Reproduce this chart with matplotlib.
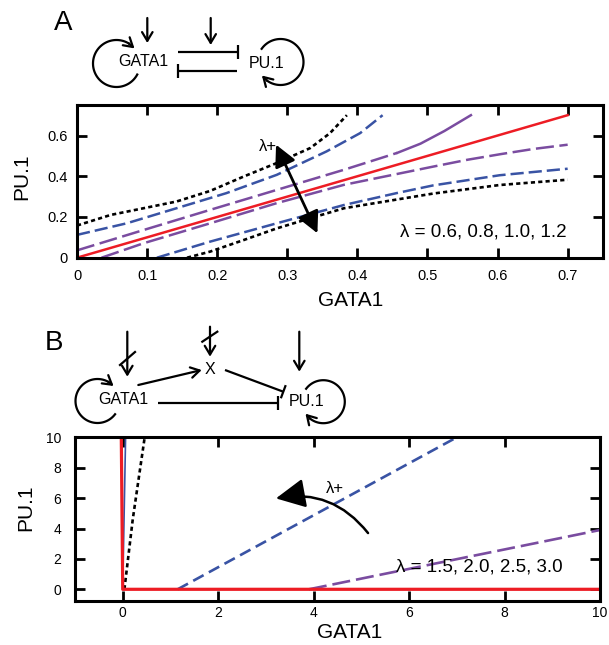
import numpy as np
import matplotlib.pyplot as plt
from matplotlib.patches import FancyArrowPatch

plt.rcParams['font.family'] = ['Liberation Sans', 'DejaVu Sans']
plt.rcParams['lines.scale_dashes'] = False

RED = '#ed1c24'
BLUE = '#3953a4'
PURPLE = '#7a4ca0'

# panel A: nullclines in the (GATA1, PU.1) plane
a_red_x = [0.0, 0.7]
a_red_y = [0.0, 0.7]
a_black_up_x = [0.0, 0.048, 0.095, 0.142, 0.19, 0.238, 0.285, 0.333, 0.361, 0.385]
a_black_up_y = [0.158, 0.21, 0.243, 0.276, 0.328, 0.399, 0.465, 0.539, 0.612, 0.70]
a_blue_up_x = [0.0, 0.071, 0.142, 0.213, 0.285, 0.356, 0.404, 0.436]
a_blue_up_y = [0.112, 0.169, 0.243, 0.317, 0.407, 0.522, 0.612, 0.70]
a_purple_up_x = [0.0, 0.095, 0.19, 0.285, 0.381, 0.457, 0.49, 0.524, 0.562]
a_purple_up_y = [0.036, 0.136, 0.235, 0.333, 0.432, 0.515, 0.56, 0.622, 0.70]
a_purple_lo_x = [0.035, 0.095, 0.19, 0.285, 0.381, 0.462, 0.509, 0.557, 0.605, 0.651, 0.70]
a_purple_lo_y = [0.0, 0.071, 0.169, 0.268, 0.358, 0.415, 0.448, 0.481, 0.509, 0.534, 0.555]
a_blue_lo_x = [0.114, 0.19, 0.285, 0.381, 0.457, 0.508, 0.603, 0.70]
a_blue_lo_y = [0.0, 0.079, 0.169, 0.259, 0.318, 0.355, 0.405, 0.437]
a_black_lo_x = [0.157, 0.19, 0.238, 0.285, 0.333, 0.381, 0.455, 0.508, 0.603, 0.70]
a_black_lo_y = [0.0, 0.03, 0.087, 0.144, 0.194, 0.243, 0.285, 0.315, 0.357, 0.383]
a_xticks = [0, 0.1, 0.2, 0.3, 0.4, 0.5, 0.6, 0.7]
a_xticklabels = ['0', '0.1', '0.2', '0.3', '0.4', '0.5', '0.6', '0.7']
a_yticks = [0, 0.2, 0.4, 0.6]
a_yticklabels = ['0', '0.2', '0.4', '0.6']

# panel B
b_red_x = [-0.03, 0.0, 10.0]
b_red_y = [10.0, 0.0, 0.0]
b_black_x = [0.035, 0.21, 0.46]
b_black_y = [0.0, 4.6, 10.0]
b_blue_steep_x = [0.0, 0.06]
b_blue_steep_y = [0.0, 10.0]
b_blue_x = [1.15, 7.0]
b_blue_y = [0.0, 10.0]
b_purple_x = [3.9, 6.4, 10.0]
b_purple_y = [0.0, 1.6, 3.9]
b_ticks = [0, 2, 4, 6, 8, 10]

fig = plt.figure(figsize=(6.09, 6.45), dpi=100)

# overlay in pixel units for the network sketches
net = fig.add_axes([0, 0, 1, 1])
net.set_xlim(0, 609)
net.set_ylim(645, 0)
net.axis('off')

LW = 1.6
HEAD = dict(arrowstyle='->,head_length=0.45,head_width=0.27', lw=LW, color='k',
            shrinkA=0, shrinkB=0, mutation_scale=14)


def arrow(p0, p1):
    net.annotate('', xy=p1, xytext=p0, arrowprops=HEAD)


def inhibit(p0, p1, half=7):
    net.plot([p0[0], p1[0]], [p0[1], p1[1]], color='k', lw=LW, solid_capstyle='butt')
    dx, dy = p1[0] - p0[0], p1[1] - p0[1]
    n = np.hypot(dx, dy)
    px, py = -dy / n * half, dx / n * half
    net.plot([p1[0] - px, p1[0] + px], [p1[1] - py, p1[1] + py], color='k', lw=LW,
             solid_capstyle='butt')


def loop(cx, cy, r, t0, t1):
    t = np.radians(np.linspace(t0, t1, 80))
    xs = cx + r * np.cos(t)
    ys = cy - r * np.sin(t)
    net.plot(xs[:-5], ys[:-5], color='k', lw=LW)
    arrow((xs[-6], ys[-6]), (xs[-1], ys[-1]))


def slash(p0, p1):
    net.plot([p0[0], p1[0]], [p0[1], p1[1]], color='k', lw=LW)


# network A
net.text(63, 23, 'A', fontsize=20, ha='center', va='center')
net.text(143, 62, 'GATA1', fontsize=11.5, ha='center', va='center')
net.text(267, 63, 'PU.1', fontsize=11.5, ha='center', va='center')
loop(116.5, 63.5, 23.5, -28, -320)
loop(280.5, 62, 23, 145, -144)
arrow((147.3, 18), (147.3, 43))
arrow((210.7, 18), (210.7, 45))
inhibit((178.3, 51.7), (238.3, 51.7))
inhibit((236.7, 71), (178.3, 71))

# network B
net.text(54, 343, 'B', fontsize=20, ha='center', va='center')
net.text(123, 400, 'GATA1', fontsize=11.5, ha='center', va='center')
net.text(210, 370, 'X', fontsize=11.5, ha='center', va='center')
net.text(307, 401, 'PU.1', fontsize=11.5, ha='center', va='center')
loop(97.5, 401, 22, -37, -317)
loop(323.3, 401.7, 21.5, 143, -146)
arrow((127.3, 331.7), (127.3, 376.7))
slash((120, 365), (135, 352))
arrow((210, 326.7), (210, 356.7))
slash((202.3, 341.7), (217.3, 331.7))
arrow((299.3, 331.7), (299.3, 371.7))
arrow((138.3, 385), (201.7, 370))
inhibit((225, 370), (283.3, 391.7))
inhibit((158.3, 403.3), (278.3, 403.3))


def style_axes(ax, size, xpad, ypad):
    for s in ax.spines.values():
        s.set_linewidth(2.2)
    ax.tick_params(direction='in', length=7, width=2, top=True, right=True,
                   labelsize=size)
    ax.tick_params(axis='x', pad=xpad)
    ax.tick_params(axis='y', pad=ypad)


# panel A plot
axA = fig.add_axes([77 / 609, 1 - 257.7 / 645, 525.7 / 609, 152.7 / 645])
axA.plot(a_red_x, a_red_y, color=RED, lw=1.8)
axA.plot(a_black_up_x, a_black_up_y, color='k', lw=1.9, dashes=(3, 2.3))
axA.plot(a_black_lo_x, a_black_lo_y, color='k', lw=1.9, dashes=(3, 2.3))
axA.plot(a_blue_up_x, a_blue_up_y, color=BLUE, lw=1.8, dashes=(9.5, 3.6))
axA.plot(a_blue_lo_x, a_blue_lo_y, color=BLUE, lw=1.8, dashes=(9.5, 3.6))
up_x = np.array(a_purple_up_x)
up_y = np.array(a_purple_up_y)
axA.plot(up_x[up_x <= 0.457], up_y[up_x <= 0.457], color=PURPLE, lw=1.8, dashes=(13, 4))
axA.plot(up_x[up_x >= 0.457], up_y[up_x >= 0.457], color=PURPLE, lw=1.8)
axA.plot(a_purple_lo_x, a_purple_lo_y, color=PURPLE, lw=1.8, dashes=(13, 4))
axA.add_patch(FancyArrowPatch((0.343, 0.12), (0.284, 0.555),
                              arrowstyle='<|-|>,head_length=0.65,head_width=0.33',
                              mutation_scale=20, lw=2, color='k',
                              shrinkA=0, shrinkB=0, zorder=5))
axA.text(0.286, 0.545, 'λ+', fontsize=12, ha='right', va='center')
axA.text(0.699, 0.127, 'λ = 0.6, 0.8, 1.0, 1.2', fontsize=13.5, ha='right', va='center')
axA.set_xlim(0, 0.75)
axA.set_ylim(0, 0.75)
axA.set_xticks(a_xticks)
axA.set_xticklabels(a_xticklabels)
axA.set_yticks(a_yticks)
axA.set_yticklabels(a_yticklabels)
style_axes(axA, 10.5, 8, 7)
axA.set_xlabel('GATA1', fontsize=15)
axA.set_ylabel('PU.1', fontsize=15)
axA.xaxis.label.set_va('center')
axA.yaxis.label.set_va('center')
axA.xaxis.set_label_coords(0.52, -0.282)
axA.yaxis.set_label_coords(-0.106, 0.53)

# panel B plot
axB = fig.add_axes([75 / 609, 1 - 600.7 / 645, 525 / 609, 163.4 / 645])
axB.plot(b_black_x, b_black_y, color='k', lw=1.9, dashes=(3, 2.3))
axB.plot(b_blue_steep_x, b_blue_steep_y, color=BLUE, lw=1.2)
axB.plot(b_blue_x, b_blue_y, color=BLUE, lw=1.9, dashes=(8.5, 4.3))
axB.plot(b_purple_x, b_purple_y, color=PURPLE, lw=1.9, dashes=(13, 4.3))
axB.plot(b_red_x, b_red_y, color=RED, lw=2.3)
axB.add_patch(FancyArrowPatch((5.14, 3.7), (3.21, 5.98),
                              connectionstyle='arc3,rad=0.3',
                              arrowstyle='-|>,head_length=0.9,head_width=0.45',
                              mutation_scale=20, lw=1.8, color='k',
                              shrinkA=0, shrinkB=0, zorder=5))
axB.text(4.45, 6.66, 'λ+', fontsize=12, ha='center', va='center')
axB.text(9.22, 1.5, 'λ = 1.5, 2.0, 2.5, 3.0', fontsize=13.5, ha='right', va='center')
axB.set_xlim(-1, 10)
axB.set_ylim(-0.75, 10)
axB.set_xticks(b_ticks)
axB.set_yticks(b_ticks)
style_axes(axB, 10, 4, 10)
axB.set_xlabel('GATA1', fontsize=15)
axB.set_ylabel('PU.1', fontsize=15)
axB.xaxis.label.set_va('center')
axB.yaxis.label.set_va('center')
axB.xaxis.set_label_coords(0.523, -0.195)
axB.yaxis.set_label_coords(-0.093, 0.567)

fig.savefig('out.png', dpi=100)
